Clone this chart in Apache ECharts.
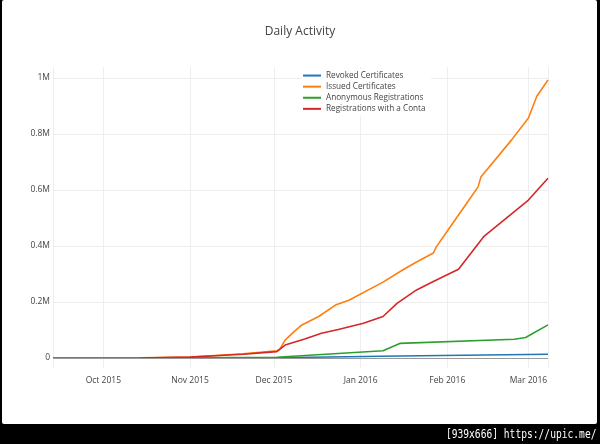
<!DOCTYPE html>
<html>
<head>
<meta charset="utf-8">
<script src="https://cdn.jsdelivr.net/npm/echarts@6/dist/echarts.min.js"></script>
<style>
html,body{margin:0;padding:0;background:#000;width:600px;height:444px;overflow:hidden;}
#frame{position:absolute;left:2px;top:0;width:595px;height:424px;background:#fff;border-radius:2px;}
#chart{position:absolute;left:0;top:0;width:600px;height:444px;}
#wm{position:absolute;right:4px;top:425px;height:18px;line-height:18px;color:#fff;font-family:"DejaVu Sans Mono",monospace;font-size:13px;white-space:nowrap;transform-origin:right center;transform:scaleX(0.74);}
</style>
</head>
<body>
<div id="frame"></div>
<div id="chart"></div>
<div id="wm">[939x666] https://upic.me/</div>
<script>
const chartTitle = 'Daily Activity';
const seriesNames = ['Revoked Certificates','Issued Certificates','Anonymous Registrations','Registrations with a Contact'];
const monthNames = ['Jan','Feb','Mar','Apr','May','Jun','Jul','Aug','Sep','Oct','Nov','Dec'];

const revokedDates  = ['2015-09-13','2015-12-02','2016-01-15','2016-03-08'];
const revokedValues = [0, 500, 7000, 13000];

const issuedDates  = ['2015-09-13','2015-10-14','2015-11-01','2015-11-10','2015-11-20','2015-12-02','2015-12-03','2015-12-05','2015-12-08','2015-12-11','2015-12-17','2015-12-23','2015-12-28','2016-01-09','2016-01-16','2016-01-21','2016-01-27','2016-01-28','2016-02-02','2016-02-07','2016-02-12','2016-02-13','2016-02-24','2016-03-01','2016-03-04','2016-03-08'];
const issuedValues = [0, 1000, 3000, 9000, 15000, 26000, 30000, 64000, 92000, 118000, 148000, 189000, 207000, 271000, 314000, 343000, 375000, 396000, 468000, 539000, 611000, 646000, 779000, 857000, 935000, 993000];

const anonDates  = ['2015-09-13','2015-11-01','2015-12-02','2016-01-09','2016-01-15','2016-02-25','2016-02-29','2016-03-08'];
const anonValues = [0, 500, 2500, 26000, 52000, 67000, 73000, 118000];

const contactDates  = ['2015-10-14','2015-11-01','2015-11-10','2015-11-20','2015-12-02','2015-12-05','2015-12-12','2015-12-18','2015-12-24','2016-01-02','2016-01-09','2016-01-14','2016-01-21','2016-01-27','2016-02-05','2016-02-14','2016-03-01','2016-03-08'];
const contactValues = [0, 3000, 8000, 13000, 22500, 46000, 68000, 88000, 102000, 124000, 148000, 195000, 243000, 273000, 317000, 433000, 564000, 642000];

const colors = ['#1f77b4','#ff7f0e','#2ca02c','#d62728'];

function pairs(d, v){ return d.map((x,i)=>[x, v[i]]); }

const chart = echarts.init(document.getElementById('chart'), null, {renderer:'canvas'});
const font = '"Open Sans", "Noto Sans", sans-serif';
function mkSeries(i, d, v, extra){
  return Object.assign({
    name: seriesNames[i], type:'line', data: pairs(d, v),
    showSymbol:false, symbol:'none', smooth:false,
    lineStyle:{width:1.6, color:colors[i]}, itemStyle:{color:colors[i]},
    emphasis:{disabled:true}, animation:false
  }, extra||{});
}
chart.setOption({
  animation:false,
  color: colors,
  title:{text:chartTitle, left:'center', top:21, textStyle:{fontFamily:font, fontSize:12, fontWeight:'normal', color:'#444'}},
  legend:{
    orient:'vertical', left:301, top:69, itemWidth:18, itemHeight:2, itemGap:0,
    icon:'rect', backgroundColor:'#fff', padding:[1,2,1,2],
    textStyle:{fontFamily:font, fontSize:8.2, color:'#444', lineHeight:11.1, width:103, overflow:'truncate', ellipsis:''},
    data: seriesNames
  },
  grid:{left:53, right:52, top:66.8, bottom:75.4, containLabel:false},
  xAxis:{
    type:'time', min:'2015-09-13', max:'2016-03-08',
    axisLine:{show:false}, axisTick:{show:false},
    splitLine:{show:true, lineStyle:{color:'#eee', width:1}},
    axisLabel:{fontFamily:font, fontSize:8.5, color:'#444', margin:7, hideOverlap:false,
      formatter:function(v){ const d=new Date(v); return monthNames[d.getMonth()]+' '+d.getFullYear(); }}
  },
  yAxis:{
    type:'value', min:-38000, max:1040000, splitNumber:5,
    axisLine:{show:false}, axisTick:{show:false},
    splitLine:{show:true, showMinLine:false, showMaxLine:false, lineStyle:{color:'#eee', width:1}},
    axisLabel:{fontFamily:font, fontSize:8.5, color:'#444', margin:3, showMinLabel:false, showMaxLabel:false,
      formatter:function(v){ if (v===0) return '0'; if (v%200000!==0) return ''; return (v/1e6)+'M'; }}
  },
  series:[
    mkSeries(0, revokedDates, revokedValues, {markLine:{silent:true, symbol:'none', label:{show:false}, lineStyle:{color:'#999', width:1, type:'solid'}, data:[{yAxis:0}], animation:false}}),
    mkSeries(1, issuedDates, issuedValues),
    mkSeries(2, anonDates, anonValues),
    mkSeries(3, contactDates, contactValues)
  ]
});
</script>
</body>
</html>
